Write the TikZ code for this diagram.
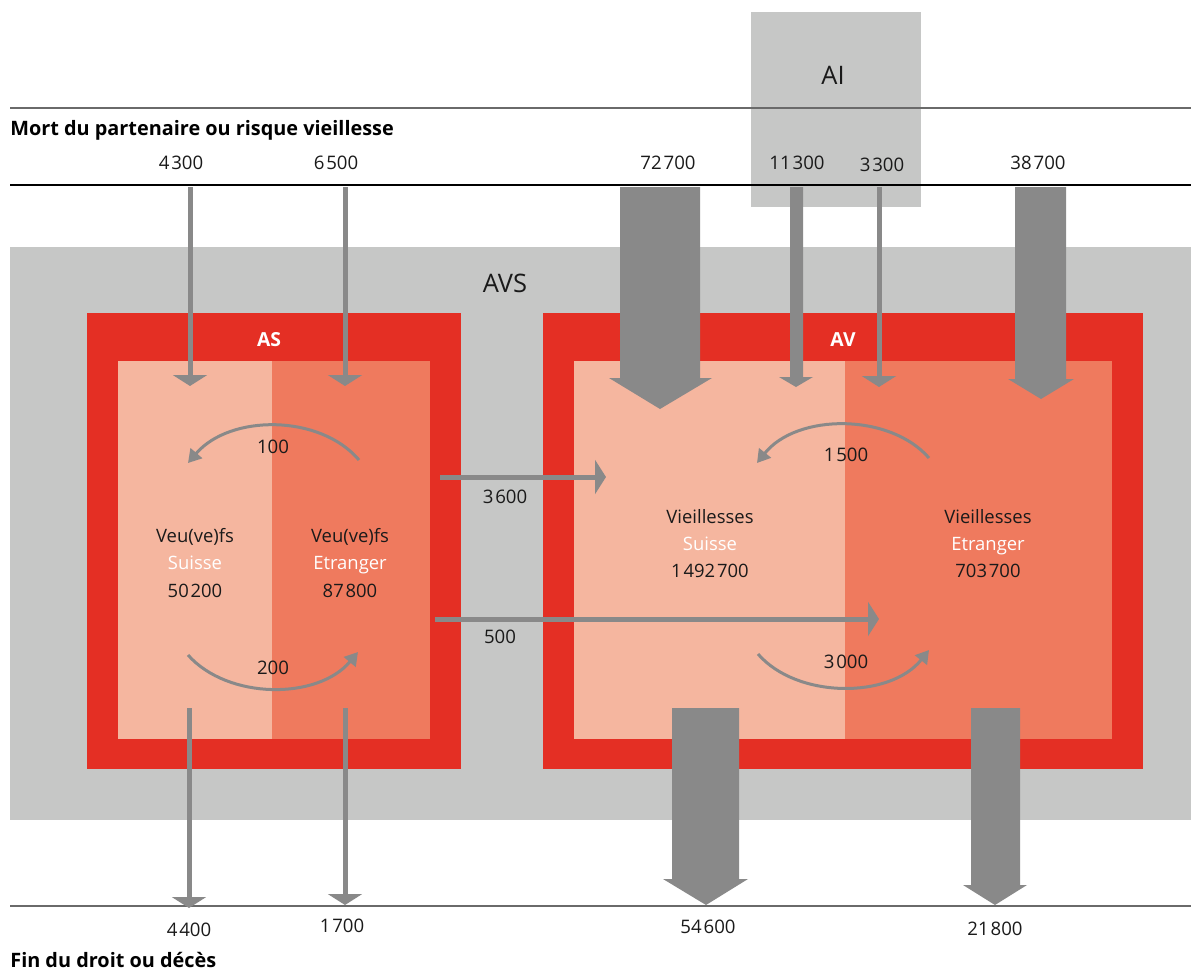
\documentclass[tikz,border=0pt]{standalone}
\usepackage{fontspec}
\setmainfont{Open Sans}
\usetikzlibrary{arrows.meta}
\definecolor{avsgray}{HTML}{C6C7C6}
\definecolor{redbox}{HTML}{E42F24}
\definecolor{lightred}{HTML}{F5B69F}
\definecolor{midred}{HTML}{EF7A5E}
\definecolor{flowgray}{HTML}{898989}
\definecolor{txt}{HTML}{1A1A1A}
\definecolor{rulegray}{HTML}{6A6A6A}
\newcommand{\gs}{\kern0.1em}
\begin{document}
\begin{tikzpicture}[x=0.02cm,y=-0.02cm,
  num/.style={font=\fontsize{10.6}{12}\selectfont, text=txt, inner sep=0pt},
  head/.style={font=\fontsize{11.3}{13}\selectfont\bfseries, text=black, inner sep=0pt},
  big/.style={font=\fontsize{14.5}{16}\selectfont, text=txt, inner sep=0pt},
  boxlabel/.style={font=\fontsize{11}{13}\selectfont\bfseries, text=white, inner sep=0pt},
  boxtxt/.style={font=\fontsize{10.5}{15.4}\selectfont, text=txt, align=center, inner sep=0pt},
  thinflow/.style={draw=flowgray, line width=0.1cm, -{Triangle[width=0.68cm,length=0.22cm]}},
  arcflow/.style={draw=flowgray, line width=0.06cm, -{Triangle[width=0.3cm,length=0.26cm]}},
  wideflow/.style={fill=flowgray}
]
\useasboundingbox (0,0) rectangle (1191,974);
% backgrounds
\fill[avsgray] (10,247) rectangle (1191,820);
\fill[avsgray] (751,12) rectangle (921,207);
\node[big] (ai) at (833,75) {AI};
\node[big] (avs) at (505,283) {AVS};
% rules
\draw[rulegray, line width=0.04cm] (10,108) -- (1191,108);
\draw[black, line width=0.03cm] (10,185) -- (1191,185);
\draw[rulegray, line width=0.04cm] (10,906) -- (1191,906);
\node[head, anchor=west] (mort) at (10,130) {Mort du partenaire ou risque vieillesse};
\node[head, anchor=west] (fin) at (10,960) {Fin du droit ou décès};
% AS box
\fill[redbox] (87,313) rectangle (461,769);
\fill[lightred] (118,361) rectangle (272,739);
\fill[midred] (272,361) rectangle (430,739);
\node[boxlabel] (as) at (269,340) {AS};
% AV box
\fill[redbox] (543,313) rectangle (1143,769);
\fill[lightred] (574,361) rectangle (845,739);
\fill[midred] (845,361) rectangle (1112,739);
\node[boxlabel] (av) at (843,340) {AV};
% box texts
\node[boxtxt] (vs) at (195,563) {Veu(ve)fs\\\textcolor{white}{Suisse}\\50\gs200};
\node[boxtxt] (ve) at (350,563) {Veu(ve)fs\\\textcolor{white}{Etranger}\\87\gs800};
\node[boxtxt] (als) at (710,544) {Vieillesses\\\textcolor{white}{Suisse}\\1\gs492\gs700};
\node[boxtxt] (ale) at (988,544) {Vieillesses\\\textcolor{white}{Etranger}\\703\gs700};
% top labels
\node[num] (n4300) at (181,163) {4\gs300};
\node[num] (n6500) at (336,163) {6\gs500};
\node[num] (n72700) at (668,163) {72\gs700};
\node[num] (n11300) at (797,163) {11\gs300};
\node[num] (n3300) at (882,165) {3\gs300};
\node[num] (n38700) at (1038,163) {38\gs700};
% bottom labels
\node[num] (n4400) at (189,930) {4\gs400};
\node[num] (n1700) at (342,926) {1\gs700};
\node[num] (n54600) at (708,927) {54\gs600};
\node[num] (n21800) at (995,929) {21\gs800};
% coordinates for thin flows
\coordinate (s4300) at (190,187); \coordinate (e4300) at (190,386);
\coordinate (s6500) at (345,187); \coordinate (e6500) at (345,386);
\coordinate (s4400) at (189,708); \coordinate (e4400) at (189,908);
\coordinate (s1700) at (345,708); \coordinate (e1700) at (345,905);
\coordinate (s3300) at (879,187); \coordinate (e3300) at (879,387);
\coordinate (s3600) at (440,477); \coordinate (e3600) at (606,477);
\coordinate (s500) at (435,619); \coordinate (e500) at (879,619);
\draw[thinflow] (s4300) -- (e4300);
\draw[thinflow] (s6500) -- (e6500);
\draw[thinflow] (s4400) -- (e4400);
\draw[thinflow] (s1700) -- (e1700);
\draw[thinflow] (s3300) -- (e3300);
\draw[thinflow] (s3600) -- (e3600);
\draw[thinflow] (s500) -- (e500);
% wide flows
\fill[wideflow] (620,187) -- (700,187) -- (700,378) -- (712,378) -- (660,409) -- (609,378) -- (620,378) -- cycle;
\fill[wideflow] (790,187) -- (803,187) -- (803,377) -- (813,377) -- (796,387) -- (779,377) -- (790,377) -- cycle;
\fill[wideflow] (1015,187) -- (1066,187) -- (1066,379) -- (1074,379) -- (1041,399) -- (1008,379) -- (1015,379) -- cycle;
\fill[wideflow] (672,708) -- (739,708) -- (739,879) -- (748,879) -- (706,905) -- (663,879) -- (672,879) -- cycle;
\fill[wideflow] (971,708) -- (1020,708) -- (1020,885) -- (1027,885) -- (995,905) -- (963,885) -- (971,885) -- cycle;
% arcs
\coordinate (a100s) at (359,460); \coordinate (a100e) at (188,463);
\coordinate (a200s) at (188,655); \coordinate (a200e) at (358,652);
\coordinate (a1500s) at (929,458); \coordinate (a1500e) at (757,463);
\coordinate (a3000s) at (758,654); \coordinate (a3000e) at (929,650);
\draw[arcflow] (a100s) .. controls (320,414) and (230,414) .. (a100e);
\draw[arcflow] (a200s) .. controls (228,700) and (318,700) .. (a200e);
\draw[arcflow] (a1500s) .. controls (890,413) and (797,413) .. (a1500e);
\draw[arcflow] (a3000s) .. controls (797,699) and (890,699) .. (a3000e);
% inner labels
\node[num] (n100) at (273,447) {100};
\node[num] (n200) at (273,668) {200};
\node[num] (n1500) at (846,455) {1\gs500};
\node[num] (n3000) at (846,662) {3\gs000};
\node[num] (n3600) at (505,497) {3\gs600};
\node[num] (n500) at (500,637) {500};
\end{tikzpicture}
\end{document}
